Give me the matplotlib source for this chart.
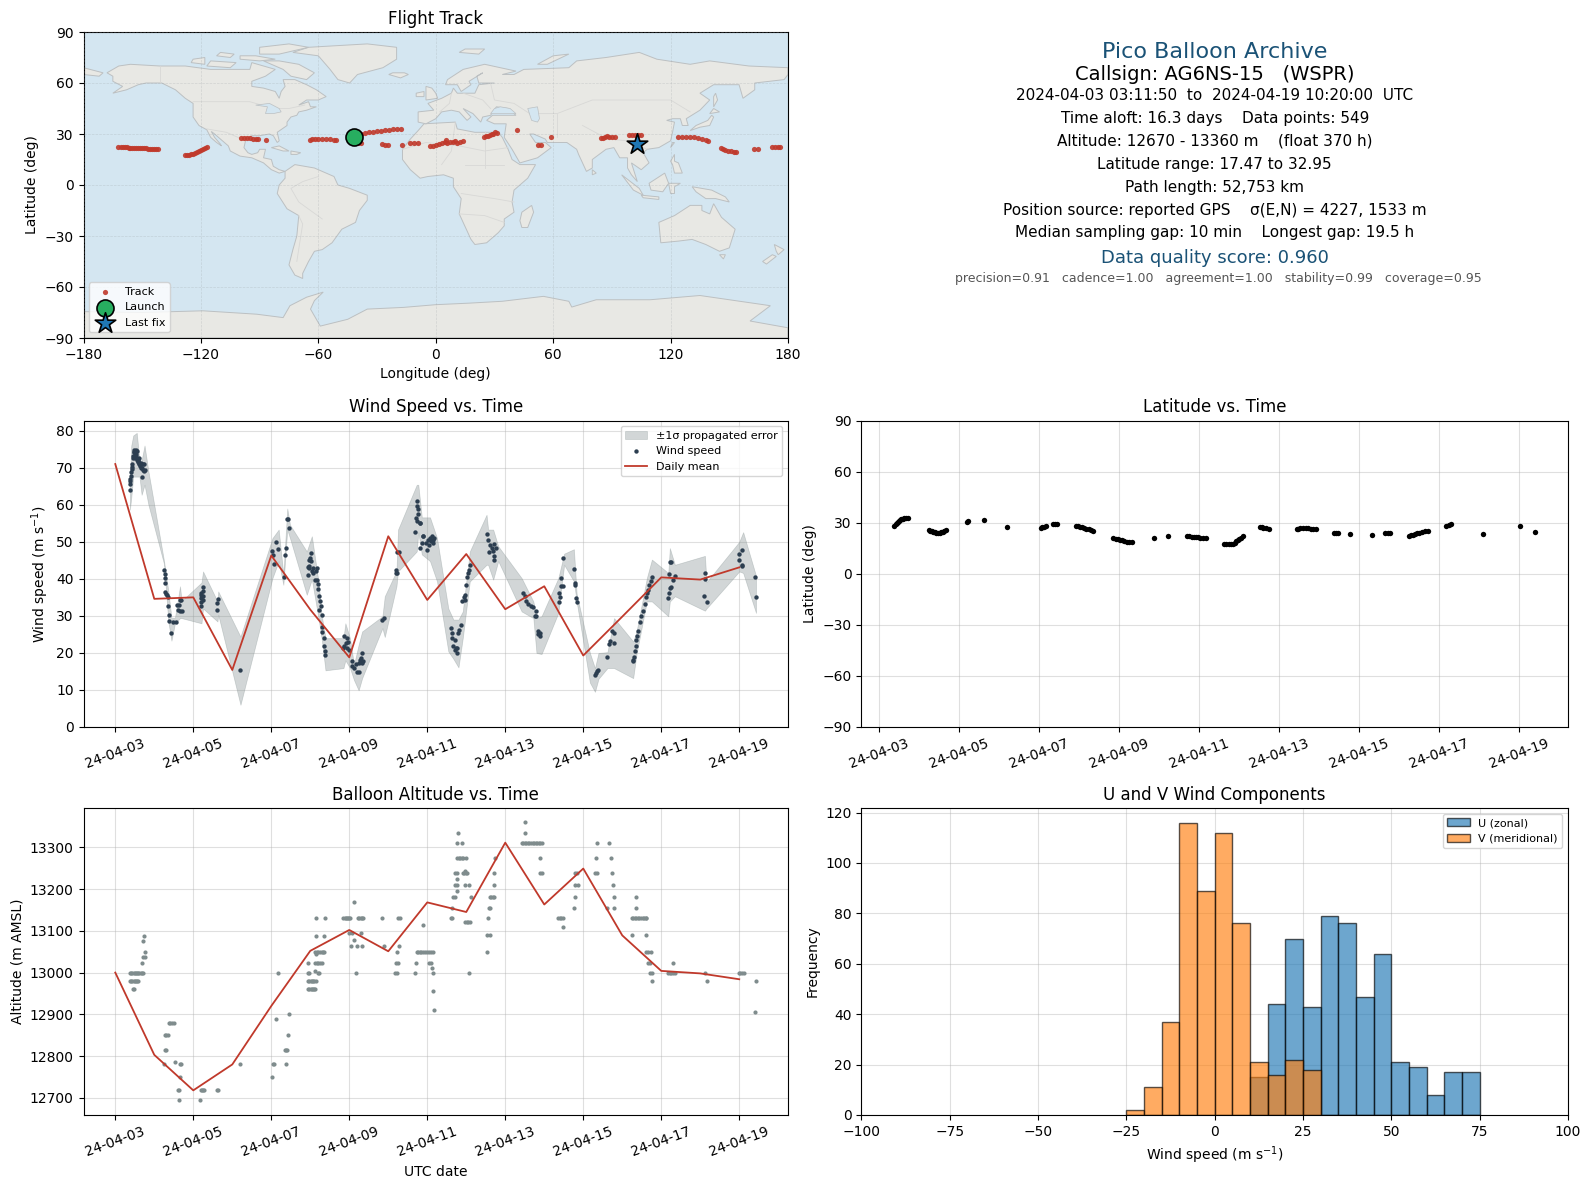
import datetime as dt
import numpy as np
import matplotlib
matplotlib.use("Agg")
import matplotlib.pyplot as plt
import matplotlib.dates as mdates
from matplotlib.patches import Polygon

# --- flight data (days since 2024-04-03 00:00) ---
wind_days = [.38,.385,.39,.39,.40,.41,.42,.43,.44,.45,.46,.47,.48,.49,.50,.51,.52,.53,.54,.55,.56,.57,.58,.59,.60,.61,.62,.64,.65,.67,.68,.69,.71,.72,.73,.74,.75,
    1.256,1.282,1.265,1.273,1.282,1.3,1.325,1.342,1.359,1.385,1.385,1.436,1.487,1.547,1.59,1.6,1.658,1.632,1.658,1.7,1.675,
    2.256,2.24,2.21,2.19,2.2,2.256,2.24,2.21,2.19,2.615,2.64,2.615,3.205,
    4.026,4.05,4.077,4.128,4.18,4.333,4.36,4.385,4.41,4.44,4.46,
    4.93,4.93,4.957,4.99,5.026,5.01,4.97,5.06,5.077,5.18,5.145,5.12,5.162,5.205,5.205,5.23,5.25,5.265,5.23,5.29,5.31,5.31,5.34,5.35,5.376,5.385,4.96,5.04,
    5.87,5.93,5.86,5.915,5.97,5.85,6.0,5.93,6.07,6.06,6.12,6.17,6.205,6.24,6.256,6.29,6.33,6.32,6.36,6.27,
    6.846,6.9,7.19,7.23,7.197,7.22,7.28,7.74,7.74,7.77,7.77,7.71,7.73,7.81,7.69,7.88,
    7.81,7.9,7.855,7.97,7.985,8.07,8.11,8.155,8.05,8.14,8.03,8.1,8.17,7.82,
    8.6,8.63,8.64,8.7,8.67,8.71,8.77,8.77,8.8,8.82,8.86,8.74,
    8.9,8.95,8.98,8.99,9.03,9.07,9.1,9.05,8.97,
    9.54,9.565,9.61,9.7,9.77,9.59,9.68,9.72,9.72,9.65,
    10.45,10.5,10.53,10.59,10.65,10.72,10.8,10.76,10.8,10.84,10.89,10.85,10.89,
    11.39,11.41,11.39,11.42,11.47,11.44,11.49,11.76,11.78,11.79,11.81,11.85,
    12.3,12.34,12.32,12.37,12.62,12.68,12.67,12.79,12.73,12.79,
    13.28,13.31,13.27,13.33,13.35,13.35,13.39,13.41,13.45,13.49,13.54,13.58,13.61,13.64,13.67,13.69,13.73,13.75,
    14.18,14.2,14.2,14.22,14.25,14.22,14.26,14.3,14.35,
    15.12,15.13,15.1,15.18,16.0,16.08,16.0,16.06,16.08,16.41,16.44]
wind_speed = [64.1,65.5,66.3,67,67.8,68.9,69.7,70.2,71,72.5,73.3,74.2,74.8,74.3,73.5,72.5,73.8,74.7,73.1,72.2,74.6,72,71.5,71.8,72.5,71,71.2,70.5,71.3,69.8,70,67.6,69.5,71,69,70.9,69.5,
    42.5,41.3,40.2,38.8,36.5,36,35.7,35.2,32.7,30.2,28.7,25.4,28.3,28.3,33,31.7,34.4,33,31.4,31.2,34.2,
    37.8,36.6,36.2,35.7,34.8,35.3,34.4,33.7,32.7,33.5,34.5,31.7,15.4,
    47.4,46.5,44,49.9,48,40.5,46.5,48.3,56.1,56.1,53.7,
    41.1,43.1,45.2,45.6,47.1,44.7,43,42.9,41.6,42.9,42.2,39.8,39.8,38.7,37.2,35.5,33.9,32.7,31.7,30.3,26.9,25.6,24,21.8,20.6,19.5,43.4,42.1,
    24.7,24,21.8,22.7,22.9,21.3,20.9,21.3,17.7,16.4,15.9,17,14.8,14.8,17.3,18.6,20,17.3,17.9,18.2,
    29,29.3,42.5,41.6,41.7,47.3,47.3,61.1,59.6,58.9,57.5,56.4,55.5,55,52.6,51.5,
    55,51.5,49.7,49.7,47.9,51,51.5,50.6,49.2,49.7,50.6,50.1,51,48.3,
    26.7,25.4,24,23.6,21.8,20.9,21.3,20,25.4,26.3,27.6,21.3,
    34.1,35,35.7,38.4,40.4,42.5,43.8,41.6,34.4,
    52.1,50.6,49.2,49.4,48.3,47.2,47.4,46.3,45.2,48.3,
    36.2,35.5,33.9,33.2,32.6,32.4,31.2,29.9,30.1,26,24.5,25.1,25.4,
    33.7,35,36.2,38,38.2,40.2,45.6,42.7,38.9,38.4,34.8,33.7,
    14.1,15,14.6,15.4,18.9,23.1,22.4,22.7,26,25.4,
    17.7,18.9,18.2,20.6,21.8,23.6,24.7,25.8,28.3,30.1,31.4,33.2,35.1,36.2,37.1,38.4,39.3,40.5,
    34.8,36.2,41.3,44.5,44.5,37.5,37.7,39.8,40.7,
    41.7,39.9,35.5,33.7,46.7,47.8,45.2,43.8,43.6,40.5,35.1]

band_days = [.375,.41,.46,.55,.62,.675,.75,.85,1.25,1.36,1.44,1.53,1.66,1.70,2.21,2.25,2.62,2.64,3.21,4.03,4.19,4.31,4.41,4.48,4.91,5.04,5.21,5.29,5.39,5.85,5.9,6.02,6.12,6.24,6.33,6.85,6.91,7.21,7.25,7.73,7.77,
    7.86,8.07,8.25,8.54,8.67,8.80,8.91,9.09,9.52,9.56,9.69,9.82,10.42,10.72,10.80,10.93,11.36,11.51,11.76,11.83,12.17,12.3,12.39,12.62,12.79,13.28,13.37,13.63,13.76,14.18,14.22,14.35,15.12,15.16,16.0,16.1,16.43]
band_high = [67.6,76,78.7,79.4,72,72,76,69,44.8,36.7,29.5,29.5,38,34,39,42,33.9,36.6,24.4,51,53.3,41.1,59,54.6,47.4,51.5,39.3,30.3,24,24,28,23.9,16.8,22.2,25.8,29.9,35.3,42.1,53.3,65.4,65.4,
    56.6,56.6,51,32,29,29,31.2,47.4,57.3,53.3,53.3,48.8,40.2,33.9,29.4,29.9,40.2,46.8,48,36,20,15.9,20,20.2,29.4,23.1,26,40.2,45.2,41.6,48.3,43.8,46.2,39.1,50,52.6,40.8]
band_low = [58.7,62,67.6,67.6,67.6,62.7,65.4,60,44,28.5,23.3,28,29.4,29.4,28,32,28.5,30.3,6,40.2,44.8,38.4,53.3,51,35.7,39.9,29.4,24,15.3,15.9,18,15.9,12.7,9.9,13.2,26.7,24.3,38,42,47.4,52.6,
    46.6,44.8,39.3,20.4,18.4,16.1,24,39.3,43.8,43.8,39.8,44.8,31.2,29.4,20,19.7,30.8,43.8,39.3,33.9,12,9.5,13,15.9,15.9,13.2,20,33.9,33.9,29.9,33.9,35.3,31.4,32,42,41.6,30.8]

mean_days = list(range(17))
wind_mean = [71,34.6,35,15.4,46.3,31.7,18.8,51.5,34.3,46.7,31.8,38,19.3,29.8,40.4,39.8,43.1]
alt_mean = [13000,12803,12718,12780,12920,13052,13102,13051,13168,13145,13311,13163,13249,13089,13004,12998,12984]

alt_days = [.38,.41,.44,.47,.5,.53,.56,.59,.62,.65,.68,.71,.38,.41,.44,.47,.5,.53,.56,.59,.46,.48,.69,.70,.75,.75,.72,.745,
    1.376,1.41,1.45,1.5,1.27,1.3,1.35,1.27,1.29,1.256,1.684,1.65,1.54,1.66,1.615,1.63,2.19,2.22,2.25,2.27,2.62,2.63,1.64,2.18,3.205,
    4.18,4.128,4.46,4.436,4.35,4.38,4.4,4.05,4.07,4.385,4.03,
    4.95,4.98,5.01,5.04,5.07,5.1,5.12,4.95,4.98,5.01,5.04,5.07,5.1,5.14,4.93,4.97,5.2,5.23,4.93,5.13,5.17,5.21,5.25,5.29,5.13,5.13,5.17,5.21,5.25,5.29,5.33,5.36,5.14,5.154,5.36,5.154,5.385,
    5.85,5.88,5.91,5.94,5.97,6.0,6.02,6.23,6.26,6.29,6.32,6.36,6.13,6.0,6.07,6.13,6.31,6.05,6.2,6.33,6.16,
    6.85,7.26,7.3,6.9,7.28,7.23,7.2,7.25,7.17,7.22,7.69,7.71,7.88,7.73,7.77,7.81,7.85,7.9,7.95,8.0,8.05,8.1,8.14,8.05,8.1,8.13,8.15,8.155,8.16,
    8.62,8.64,8.64,8.67,8.7,8.75,8.7,8.75,8.98,9.08,8.77,8.71,8.75,8.91,8.95,8.99,9.03,8.97,8.77,8.81,8.85,8.89,8.92,9.0,8.77,8.9,8.8,9.11,8.97,9.01,9.05,9.1,9.06,
    9.54,9.53,9.6,9.565,9.58,9.62,9.6,9.64,9.68,9.72,9.72,9.72,9.73,
    10.5,10.5,10.42,10.46,10.5,10.54,10.58,10.62,10.66,10.7,10.74,10.78,10.82,10.86,10.9,10.93,10.9,10.9,10.93,
    11.36,11.4,11.44,11.48,11.49,11.76,11.79,11.79,11.87,11.79,11.84,
    12.35,12.33,12.3,12.34,12.67,12.7,12.73,12.77,12.8,12.62,12.8,
    13.36,13.35,13.24,13.28,13.32,13.36,13.4,13.44,13.48,13.52,13.56,13.6,13.62,13.26,13.62,13.62,13.67,13.73,13.67,13.71,13.71,13.75,13.75,
    14.3,14.18,14.22,14.26,14.3,14.35,15.12,15.18,15.99,16.03,16.08,16.12,16.44,16.41]
alt_m = [13000]*12 + [12980]*8 + [12960,12960,13024,13038,13038,13050,13076,13088,
    12880,12880,12880,12880,12850,12850,12850,12815,12815,12780,12780,12780,12785,12750,12720,12720,12720,12720,12720,12720,12720,12720,12695,12695,12780,
    13000,12890,12902,12850,12815,12815,12815,12780,12780,12780,12750,
    12960,12960,12960,12960,12960,12960,12960,12980,12980,12980,12980,12980,12980,12980,13000,13000,13000,13000,13024,13024,13024,13024,13024,13024,13004,13050,13050,13050,13050,13050,13050,13050,13044,13088,13088,13130,13130,
    13130,13130,13130,13130,13130,13130,13130,13130,13130,13130,13130,13130,13168,13095,13095,13077,13095,13064,13064,13064,13000,
    13130,13130,13130,13064,13064,13050,13024,13024,13000,13000,13000,13024,13115,13050,13050,13050,13050,13050,13050,13050,13050,13050,13050,13024,13024,13012,13000,12955,12910,
    13130,13155,13130,13180,13180,13195,13210,13210,13210,13210,13224,13238,13238,13238,13238,13238,13238,13244,13274,13274,13274,13274,13274,13274,13310,13310,13335,13180,13120,13120,13120,13120,13000,
    13050,13090,13090,13130,13155,13155,13180,13180,13180,13180,13210,13238,13274,
    13360,13335,13310,13310,13310,13310,13310,13310,13310,13310,13310,13310,13310,13310,13310,13310,13274,13238,13238,
    13130,13130,13130,13130,13110,13155,13180,13210,13210,13238,13238,
    13310,13274,13238,13238,13310,13274,13238,13210,13180,13155,13155,
    13180,13155,13130,13130,13130,13130,13130,13130,13130,13130,13130,13130,13130,13090,13090,13050,13050,13050,13024,13024,13000,13000,12980,
    13024,13000,13000,13000,13000,13000,13000,12980,13000,13000,13000,13000,12980,12905]

lat_days = [.38,.41,.44,.47,.49,.52,.55,.59,.63,.67,.72,1.25,1.28,1.31,1.35,1.39,1.43,1.47,1.51,1.55,1.59,1.63,1.68,2.19,2.23,2.61,3.2,
    4.04,4.08,4.11,4.18,4.35,4.39,4.44,4.93,4.97,5.02,5.07,5.13,5.18,5.24,5.29,5.35,5.85,5.91,5.97,6.03,6.08,6.13,6.19,6.25,6.32,6.86,7.22,
    7.7,7.75,7.81,7.86,7.92,7.98,8.03,8.1,8.17,8.63,8.68,8.74,8.8,8.85,8.89,8.93,8.97,9.0,9.05,9.09,9.52,9.56,9.6,9.67,9.74,
    10.44,10.48,10.53,10.6,10.66,10.72,10.79,10.85,10.91,11.36,11.42,11.48,11.78,12.31,12.64,12.71,12.78,
    13.25,13.3,13.34,13.4,13.45,13.5,13.56,13.65,13.73,14.18,14.24,14.29,15.1,16.02,16.39]
lat_deg = [28.4,29.1,29.8,30.4,31,31.6,32,32.4,32.7,32.8,32.9,25.9,25.4,24.9,24.6,24.3,24,23.9,24,24.3,24.6,24.9,25.5,30.4,31,31.8,27.5,
    27.1,27.3,27.6,28.4,29.4,29.5,29.4,28.4,28.1,27.8,27.5,27.1,26.6,26.1,25.5,24.9,21.2,20.7,20.2,19.9,19.6,19.3,19,18.9,19,21.2,22,
    22.4,22,21.8,21.7,21.6,21.4,21.2,21.2,21.2,17.6,17.5,17.5,17.6,17.8,18.4,19.2,19.8,20.4,21.2,22,27.8,27.4,27.1,26.7,26.3,
    26.3,26.6,26.9,27.1,27.1,26.9,26.5,26.4,26.3,24.1,24.2,24.1,23.5,22.9,24.1,24.2,24.1,
    22.4,22.6,22.7,23.4,23.9,24.2,24.5,24.9,25.3,28.4,28.9,29.4,23.5,28.4,24.3]

track_lon = [-162.5,-161,-160,-159,-158,-157,-156,-155,-154,-153,-152,-151,-150,-149,-148,-147,-146,-145,-144,-143,-142,
    -128,-127,-126,-125,-124,-123,-122,-121,-120,-119,-118,-117,
    -99.5,-98,-96.5,-95,-93.5,-92,-90.8,-86.5,
    -64.5,-63,-61.5,-60,-58,-56,-54,-52,-51,
    -40,-38,-36,-34,-32,-30,-28,-26,-24,-22,-20,-18,-39.5,-38,-27.6,-26,-24.2,-17,-13,-11,-9,
    -3,-1.5,0,1.5,3,4.5,5,6,7.5,9,10,11,12.5,14,24.5,25.5,26.5,27.5,28.5,29.5,30.5,31.5,41.7,52.5,54,59,
    84.5,85.5,86.5,87.5,88.5,90,91.5,99,100.5,102,103.5,105,
    124,126,128,130,132,134,136,138,139,146,147,148,149.5,151,152.5,153.5,162.5,164.5,172,173.5,175,176]
track_lat = [22.2,22.2,22.2,22.1,22.1,22,22,21.9,21.8,21.7,21.6,21.6,21.5,21.5,21.5,21.4,21.4,21.3,21.2,21,20.9,
    17.6,17.6,17.7,18,18.4,18.9,19.4,20,20.6,21.2,21.7,22.2,
    27.6,27.7,27.7,27.4,27.2,27.1,27,26.6,
    26.4,26.9,27,27.1,27.1,27.1,27,26.6,26.2,
    28.5,29.8,30.4,30.9,31.3,31.7,32,32.3,32.6,32.9,33,32.9,24.8,24.6,24.1,23.7,23.3,23.4,24.7,24.8,24.6,
    22.7,23,23.5,24,24.5,25.5,26.2,25,25.5,25.2,25.8,25,25.2,25.8,28.5,28.8,29,29.5,30,30,31,30.8,32.3,23.6,23.5,28.2,
    27.4,27.7,28,28.6,28.2,28.1,28,29.4,29.4,29.6,29.5,29.4,
    28.4,28.5,28.4,28.3,28,27.6,27.2,26.4,25.7,21.8,21.2,20.7,20.2,19.8,19.4,19.2,21,21,22.3,22.4,22.3,22.2]
launch_lon, launch_lat = -41.6, 28.2
last_lon, last_lat = 102.7, 24.3

# histogram counts, 5 m/s bins
bin_left = [-25,-20,-15,-10,-5,0,5,10,15,20,25,30,35,40,45,50,55,60,65,70]
u_counts = [0,0,0,0,0,0,0,15,44,70,43,79,76,47,64,21,19,8,17,17]
v_counts = [2,11,37,116,89,112,76,21,16,22,18,0,0,0,0,0,0,0,0,0]

tick_days = list(range(0, 17, 2))

# --- rough basemap outlines (lon, lat) ---
land_outlines = [
    # north america
    [(-168,66),(-162,70),(-156,71),(-141,70),(-128,70),(-115,68),(-108,68),(-95,68),(-94,72),(-85,69),(-82,68),(-87,64),(-94,61),(-94,58),(-88,57),(-82,55),(-80,51),(-79,55),(-77,58),(-78,62),(-72,62),(-66,59),(-61,56),(-56,52),(-60,50),(-66,50),(-70,47),(-65,49),(-64,46),(-61,46),(-66,44),(-70,43),(-71,41),(-74,40),(-76,37),(-76,35),(-81,31),(-80,26),(-81,25),(-83,29),(-85,30),(-90,29),(-94,29),(-97,27),(-98,22),(-96,19),(-94,18),(-91,19),(-90,21),(-87,21),(-88,16),(-84,15),(-83,11),(-80,9),(-77,8),(-80,7),(-84,9),(-88,13),(-94,16),(-100,17),(-105,20),(-106,23),(-109,26),(-113,30),(-114.7,31.5),(-113,28),(-110,24),(-109.5,23),(-112,25),(-115,28),(-117,32.5),(-121,35),(-124,40),(-124,48),(-128,51),(-133,56),(-140,60),(-148,60),(-152,59),(-158,56),(-165,54),(-160,58),(-165,61),(-165,64)],
    # south america
    [(-77,8),(-72,12),(-62,10),(-52,5),(-50,0),(-44,-2),(-35,-6),(-35,-9),(-39,-15),(-41,-22),(-48,-26),(-53,-34),(-58,-38),(-62,-39),(-65,-45),(-68,-52),(-68,-55),(-72,-53),(-75,-47),(-73,-38),(-71,-30),(-70,-18),(-76,-14),(-81,-5),(-80,0),(-77,4)],
    # greenland and arctic islands
    [(-73,78),(-65,81),(-35,83),(-20,81),(-20,74),(-27,69),(-40,65),(-44,60),(-50,62),(-54,68),(-60,76)],
    [(-80,73),(-70,71),(-62,66),(-66,62),(-74,64),(-78,68),(-88,73)],
    [(-117,70),(-105,69),(-102,72),(-115,73)],
    [(-90,77),(-80,77),(-65,81),(-75,83),(-90,81)],
    [(-125,72),(-118,71),(-118,75),(-124,74)],
    [(-100,74),(-90,73),(-82,74),(-92,76),(-100,76)],
    [(-112,76),(-105,75),(-103,77),(-110,78)],
    # africa
    [(-6,36),(10,37),(11,33),(20,31),(32,31),(34,28),(37,21),(39,15),(43,12),(51,12),(47,4),(40,-3),(39,-10),(40,-16),(35,-20),(35,-24),(32,-28),(26,-34),(20,-35),(18,-32),(12,-17),(13,-8),(9,-1),(9,4),(4,6),(-4,5),(-8,4),(-13,9),(-17,15),(-17,21),(-13,27),(-9,32)],
    # eurasia
    [(-9,37),(-9,43),(-1,44),(-4,48),(3,51),(8,54),(9,57),(11,54),(20,54),(22,59),(30,60),(22,60),(21,64),(24,66),(17,61),(18,59),(13,55),(11,59),(5,59),(6,62),(14,68),(25,71),(41,67),(34,65),(40,65),(45,68),(68,69),(72,73),(87,75),(104,78),(113,74),(130,71),(140,73),(160,70),(180,69),(180,65),(178,62),(163,60),(163,56),(157,51),(155,59),(142,59),(135,54),(140,50),(135,44),(128,39),(129,35),(126,35),(125,39),(121,39),(118,38),(122,37),(121,31),(120,26),(114,22),(108,21),(106,19),(109,13),(105,9),(100,13),(103,2),(100,6),(98,10),(98,16),(94,16),(91,22),(87,21),(80,15),(80,10),(77,8),(73,18),(72,21),(67,25),(57,25),(56,27),(50,30),(48,30),(51,25),(56,25),(59,22),(52,16),(43,13),(39,21),(35,28),(36,36),(30,36),(26,38),(29,41),(41,41),(37,45),(31,46),(28,41),(24,40),(23,37),(19,42),(14,45),(18,40),(16,38),(12,43),(8,44),(3,43),(0,39),(-5,36)],
    [(-180,65),(-172,64),(-170,66),(-180,69)],
    # islands
    [(-5,50),(1,51),(0,54),(-2,57),(-5,58),(-5,54)],
    [(-10,52),(-6,52),(-6,55),(-10,54)],
    [(-24,65),(-18,63),(-14,65),(-16,66),(-22,66)],
    [(12,78),(22,77),(25,80),(15,80)],
    [(52,71),(57,71),(68,77),(60,76)],
    [(142,46),(144,50),(143,54),(142,52)],
    [(130,32),(135,34),(140,35),(142,40),(141,41),(139,38),(133,35)],
    [(140,42),(145,43),(142,45)],
    [(120,22),(122,25),(121,25)],
    [(120,14),(122,18),(122,14),(124,13),(126,7),(122,7),(121,12)],
    [(95,6),(104,-2),(106,-6),(101,-3)],
    [(105,-6),(114,-7),(114,-8.5),(106,-7.5)],
    [(109,1),(117,7),(119,1),(116,-4),(110,-3)],
    [(119,1),(125,1),(122,-1),(122,-5),(120,-5)],
    [(131,-1),(141,-3),(148,-7),(150,-10),(143,-8),(138,-8),(133,-4)],
    [(114,-22),(122,-18),(130,-12),(136,-12),(136,-15),(140,-17),(142,-11),(146,-19),(153,-26),(150,-37),(145,-39),(138,-35),(131,-32),(124,-33),(115,-34)],
    [(145,-41),(148,-41),(147,-43.5)],
    [(173,-35),(178,-38),(175,-41),(174,-39)],
    [(172,-41),(174,-42),(169,-46.5),(167,-45)],
    [(44,-16),(49,-12),(50,-16),(47,-25),(44,-25),(43,-21)],
    [(80,9),(82,7),(80,6)],
    [(-84,22),(-80,23),(-75,20),(-78,20)],
    [(-74,20),(-69,19),(-71,18),(-74,18)],
    [(-180,-74.5),(-150,-75),(-119,-74),(-91.5,-76),(-78,-78),(-74.5,-71),(-66,-66),(-57.5,-63),(-62,-68),(-64,-73),(-59,-83),(-45,-79),(-35,-73),(-16.5,-72),(0,-70.4),(17,-69.5),(34,-68.4),(55,-65.5),(68,-68.4),(69.5,-71.8),(82,-67.5),(109.5,-67.5),(135,-65),(171,-71),(160.6,-80),(180,-84),(180,-90),(-180,-90)],
]
lake_outlines = [
    [(28,42),(33,42),(41,42),(38,45),(33,46),(30,45)],
    [(47,45),(52,46),(53,39),(52,37),(49,38)],
    [(-92,47),(-85,48),(-80,45),(-79,43),(-83,42),(-87,42),(-86,46)],
]
border_lines = [
    [(-141,70),(-141,60)],[(-124,49),(-95,49),(-83,45),(-75,45),(-67,47)],
    [(-117,33),(-107,31),(-97,26)],[(-70,-18),(-68,-23),(-71,-45)],[(-58,-20),(-70,-10),(-74,-2),(-68,2),(-60,5)],
    [(-17,21),(-5,25),(12,23),(25,20),(37,22)],[(25,32),(25,10)],[(10,37),(8,20),(3,12)],[(13,-5),(30,-8),(40,-10)],[(12,-17),(25,-18),(35,-22)],[(15,12),(35,12)],
    [(28,60),(30,50),(40,48),(48,42),(62,42),(80,50),(100,50),(120,50),(130,43)],[(62,42),(62,28)],[(75,35),(88,27),(98,26),(108,21)],[(2,43),(7,48),(8,54)],[(14,54),(24,50),(28,45)],
]

DAY0 = mdates.date2num(dt.datetime(2024, 4, 3))
def to_dates(days):
    return DAY0 + np.asarray(days, dtype=float)

W, H = 1589, 1189
def axes_px(left, top, right, bottom):
    return [left / W, 1 - bottom / H, (right - left) / W, (bottom - top) / H]

fig = plt.figure(figsize=(W / 100, H / 100), dpi=100)
ax_map = fig.add_axes(axes_px(83.5, 32, 788, 338))
ax_info = fig.add_axes(axes_px(861.5, 32, 1568, 338))
ax_wind = fig.add_axes(axes_px(83.5, 420.7, 788, 727))
ax_lat = fig.add_axes(axes_px(861.5, 420.7, 1568, 727))
ax_alt = fig.add_axes(axes_px(83.5, 808, 788, 1115))
ax_hist = fig.add_axes(axes_px(861.5, 808, 1568, 1115))

# 1. Flight track
ax_map.set_facecolor("#d4e6f1")
for outline in land_outlines:
    ax_map.add_patch(Polygon(outline, closed=True, fc="#e8e8e4", ec="#bcc0c2", lw=0.7, zorder=1))
for outline in lake_outlines:
    ax_map.add_patch(Polygon(outline, closed=True, fc="#d4e6f1", ec="#bcc0c2", lw=0.5, zorder=1.2))
for line in border_lines:
    xs, ys = zip(*line)
    ax_map.plot(xs, ys, color="#d8d8d6", lw=0.6, zorder=1.1)
ax_map.scatter(track_lon, track_lat, s=14, color="#c0392b", alpha=0.9, lw=0, zorder=3, label="Track")
ax_map.scatter([launch_lon], [launch_lat], s=150, color="#27ae60", ec="black", lw=1.2, zorder=5, label="Launch")
ax_map.scatter([last_lon], [last_lat], s=240, marker="*", color="#1f77b4", ec="black", lw=1.2, zorder=5, label="Last fix")
ax_map.set_xlim(-180, 180)
ax_map.set_ylim(-90, 90)
ax_map.set_xticks(np.arange(-180, 181, 60))
ax_map.set_yticks(np.arange(-90, 91, 30))
ax_map.grid(True, ls="--", lw=0.5, color="#9aa0a3", alpha=0.3, zorder=2)
ax_map.set_axisbelow(False)
ax_map.set_title("Flight Track", fontsize=12)
ax_map.set_xlabel("Longitude (deg)")
ax_map.set_ylabel("Latitude (deg)")
ax_map.legend(loc="lower left", fontsize=8, labelspacing=0.5)

# 2. Summary text
ax_info.axis("off")
info_lines = [
    (52, "Pico Balloon Archive", 16, "#1a5276", 0.5),
    (74.5, "Callsign: AG6NS-15   (WSPR)", 14, "black", 0.5),
    (95.5, "2024-04-03 03:11:50  to  2024-04-19 10:20:00  UTC", 11, "black", 0.5),
    (118.5, "Time aloft: 16.3 days    Data points: 549", 11, "black", 0.5),
    (141, "Altitude: 12670 - 13360 m    (float 370 h)", 11, "black", 0.5),
    (164, "Latitude range: 17.47 to 32.95", 11, "black", 0.5),
    (187.5, "Path length: 52,753 km", 11, "black", 0.5),
    (210, "Position source: reported GPS    σ(E,N) = 4227, 1533 m", 11, "black", 0.5),
    (233, "Median sampling gap: 10 min    Longest gap: 19.5 h", 11, "black", 0.5),
    (258, "Data quality score: 0.960", 13, "#1a5276", 0.5),
    (278.7, "precision=0.91   cadence=1.00   agreement=1.00   stability=0.99   coverage=0.95", 9, "#555555", 0.505),
]
for y_px, txt, size, col, x_frac in info_lines:
    ax_info.text(x_frac, 1 - (y_px - 32) / 306, txt, fontsize=size, color=col,
                 ha="center", va="center", transform=ax_info.transAxes)

# 3. Wind speed
ax_wind.fill_between(to_dates(band_days), band_low, band_high, color="#7f8c8d", alpha=0.35, lw=0.5,
                     label="±1σ propagated error")
ax_wind.scatter(to_dates(wind_days), wind_speed, s=10, color="#2c3e50", lw=0, zorder=3, label="Wind speed")
ax_wind.plot(to_dates(mean_days), wind_mean, color="#c0392b", lw=1.3, zorder=4, label="Daily mean")
ax_wind.set_ylim(0, 82.7)
ax_wind.set_title("Wind Speed vs. Time", fontsize=12)
ax_wind.set_ylabel("Wind speed (m s$^{-1}$)")
ax_wind.legend(loc="upper right", fontsize=8)

# 4. Latitude
ax_lat.scatter(to_dates(lat_days), lat_deg, s=15, color="black", lw=0, zorder=3)
ax_lat.set_ylim(-90, 90)
ax_lat.set_yticks(np.arange(-90, 91, 30))
ax_lat.set_title("Latitude vs. Time", fontsize=12)
ax_lat.set_ylabel("Latitude (deg)")

# 5. Altitude
ax_alt.scatter(to_dates(alt_days), alt_m, s=9, color="#7f8c8d", lw=0, zorder=3)
ax_alt.plot(to_dates(mean_days), alt_mean, color="#c0392b", lw=1.3, zorder=4)
ax_alt.set_ylim(12659, 13394)
ax_alt.set_title("Balloon Altitude vs. Time", fontsize=12)
ax_alt.set_xlabel("UTC date")
ax_alt.set_ylabel("Altitude (m AMSL)")

for ax, xlim in [(ax_wind, (-0.815, 17.25)), (ax_lat, (-0.44, 17.22)), (ax_alt, (-0.815, 17.25))]:
    ax.set_xlim(DAY0 + xlim[0], DAY0 + xlim[1])
    ax.set_xticks(to_dates(tick_days))
    ax.xaxis.set_major_formatter(mdates.DateFormatter("%y-%m-%d"))
    ax.tick_params(axis="x", labelrotation=20)
    ax.grid(True, color="#b0b0b0", alpha=0.4, lw=0.8)
    ax.set_axisbelow(True)

# 6. U/V histogram
ax_hist.bar(bin_left, u_counts, width=5, align="edge", color="#1f77b4", alpha=0.65, ec="black", lw=1, label="U (zonal)")
ax_hist.bar(bin_left, v_counts, width=5, align="edge", color="#ff7f0e", alpha=0.65, ec="black", lw=1, label="V (meridional)")
ax_hist.set_xlim(-100, 100)
ax_hist.set_ylim(0, 121.8)
ax_hist.set_title("U and V Wind Components", fontsize=12)
ax_hist.set_xlabel("Wind speed (m s$^{-1}$)")
ax_hist.set_ylabel("Frequency")
ax_hist.grid(True, color="#b0b0b0", alpha=0.4, lw=0.8)
ax_hist.set_axisbelow(True)
ax_hist.legend(loc="upper right", fontsize=8)

fig.savefig("out.png", dpi=100)
